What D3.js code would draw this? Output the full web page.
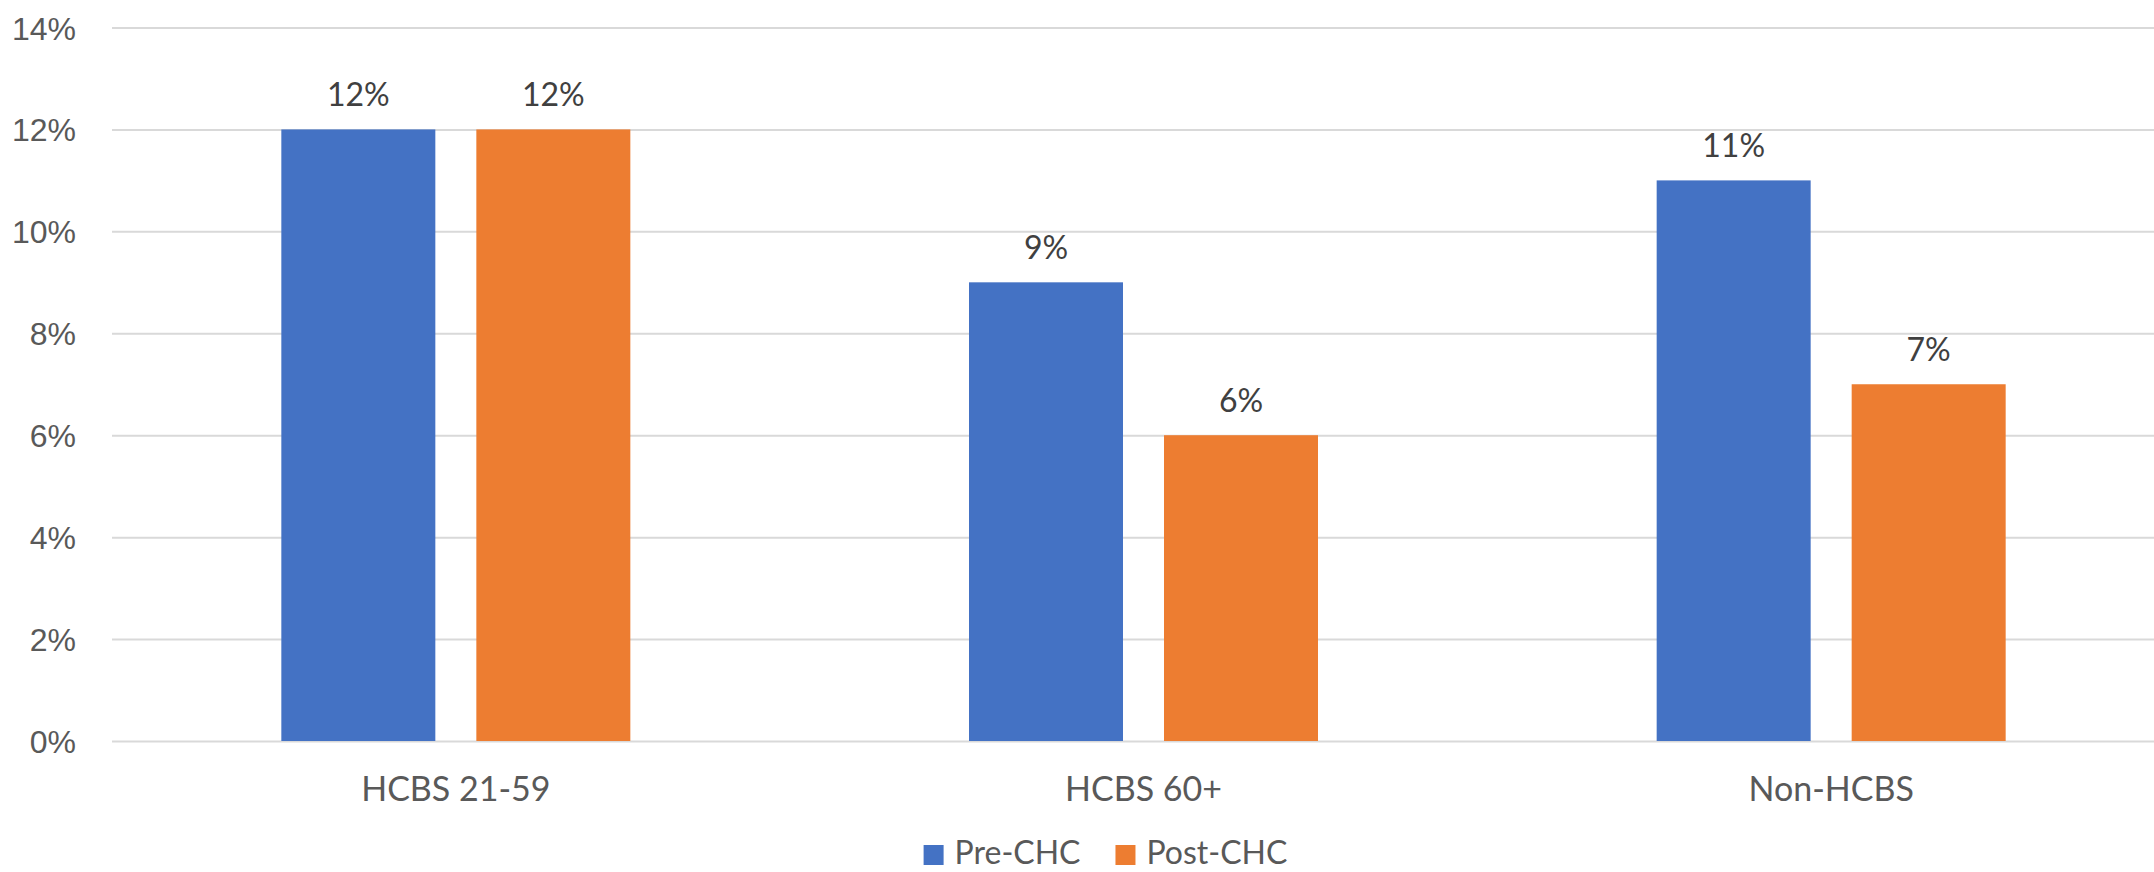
<!DOCTYPE html>
<html>
<head>
<meta charset="utf-8">
<script src="https://cdn.jsdelivr.net/npm/d3@7"></script>
<style>
  html, body { margin: 0; padding: 0; background: #ffffff; }
  svg { display: block; font-family: Lato, "Open Sans", sans-serif; }
</style>
</head>
<body>
<svg id="chart" width="2154" height="872"></svg>
<script>
// Chart data
const categories = ["HCBS 21-59", "HCBS 60+", "Non-HCBS"];
const seriesNames = ["Pre-CHC", "Post-CHC"];
const preCHC = [12, 9, 11];
const postCHC = [12, 6, 7];
const yTicks = [0, 2, 4, 6, 8, 10, 12, 14];
const seriesColors = ["#4472c4", "#ed7d31"];

const seriesValues = [preCHC, postCHC];
const rows = categories.map((c, i) => ({
  category: c,
  values: seriesNames.map((s, j) => ({ series: s, value: seriesValues[j][i], idx: j }))
}));

const svg = d3.select("#chart");

const plot = { left: 112, right: 2175, top: 27.5, bottom: 741 };

const x0 = d3.scaleBand().domain(categories).range([plot.left, plot.right]).padding(0);
const groupWidth = 349;
const x1 = d3.scaleBand().domain(seriesNames).range([0, groupWidth]).paddingInner(0.2103).paddingOuter(0);
const groupOffset = (x0.bandwidth() - groupWidth) / 2;

const y = d3.scaleLinear().domain([0, 14]).range([plot.bottom, plot.top]);

// Horizontal gridlines with percentage tick labels
const yAxis = d3.axisLeft(y).tickValues(yTicks).tickSize(-(plot.right - plot.left)).tickFormat(d => d + "%").tickPadding(36);
const gy = svg.append("g").attr("transform", `translate(${plot.left},0)`).call(yAxis);
gy.select(".domain").remove();
gy.selectAll(".tick line").attr("stroke", "#d9d9d9").attr("stroke-width", 2);
gy.selectAll(".tick text")
  .attr("fill", "#595959")
  .attr("font-size", 32)
  .attr("dy", "0.36em");

// Bars
const groups = svg.append("g").selectAll("g")
  .data(rows)
  .join("g")
  .attr("transform", d => `translate(${x0(d.category) + groupOffset},0)`);

groups.selectAll("rect")
  .data(d => d.values)
  .join("rect")
  .attr("x", d => x1(d.series))
  .attr("y", d => y(d.value))
  .attr("width", x1.bandwidth())
  .attr("height", d => y(0) - y(d.value))
  .attr("fill", d => seriesColors[d.idx]);

// Value labels
groups.selectAll("text.value")
  .data(d => d.values)
  .join("text")
  .attr("class", "value")
  .attr("x", d => x1(d.series) + x1.bandwidth() / 2)
  .attr("y", d => y(d.value) - 23)
  .attr("text-anchor", "middle")
  .attr("fill", "#404040")
  .attr("font-size", 32)
  .text(d => d.value + "%");

// Category axis labels
const xAxis = d3.axisBottom(x0).tickSize(0).tickPadding(0);
const gx = svg.append("g").attr("transform", `translate(0,${plot.bottom})`).call(xAxis);
gx.select(".domain").remove();
gx.selectAll(".tick text")
  .attr("fill", "#595959")
  .attr("font-size", 34)
  .attr("font-family", "Lato, sans-serif")
  .attr("y", 60)
  .attr("dy", 0);

// Legend
const legend = svg.append("g");
const items = legend.selectAll("g").data(seriesNames).join("g");
items.append("rect")
  .attr("width", 20).attr("height", 20)
  .attr("y", 845)
  .attr("fill", (d, i) => seriesColors[i]);
items.append("text")
  .attr("x", 31)
  .attr("y", 864)
  .attr("fill", "#595959")
  .attr("font-size", 32)
  .text(d => d);

const widths = [];
items.each(function () {
  const tw = d3.select(this).select("text").node().getComputedTextLength();
  widths.push(31 + tw);
});
const spacing = 35;
const total = d3.sum(widths) + spacing * (widths.length - 1);
let cur = 1105.5 - total / 2;
items.attr("transform", (d, i) => {
  const t = `translate(${cur},0)`;
  cur += widths[i] + spacing;
  return t;
});
</script>
</body>
</html>
